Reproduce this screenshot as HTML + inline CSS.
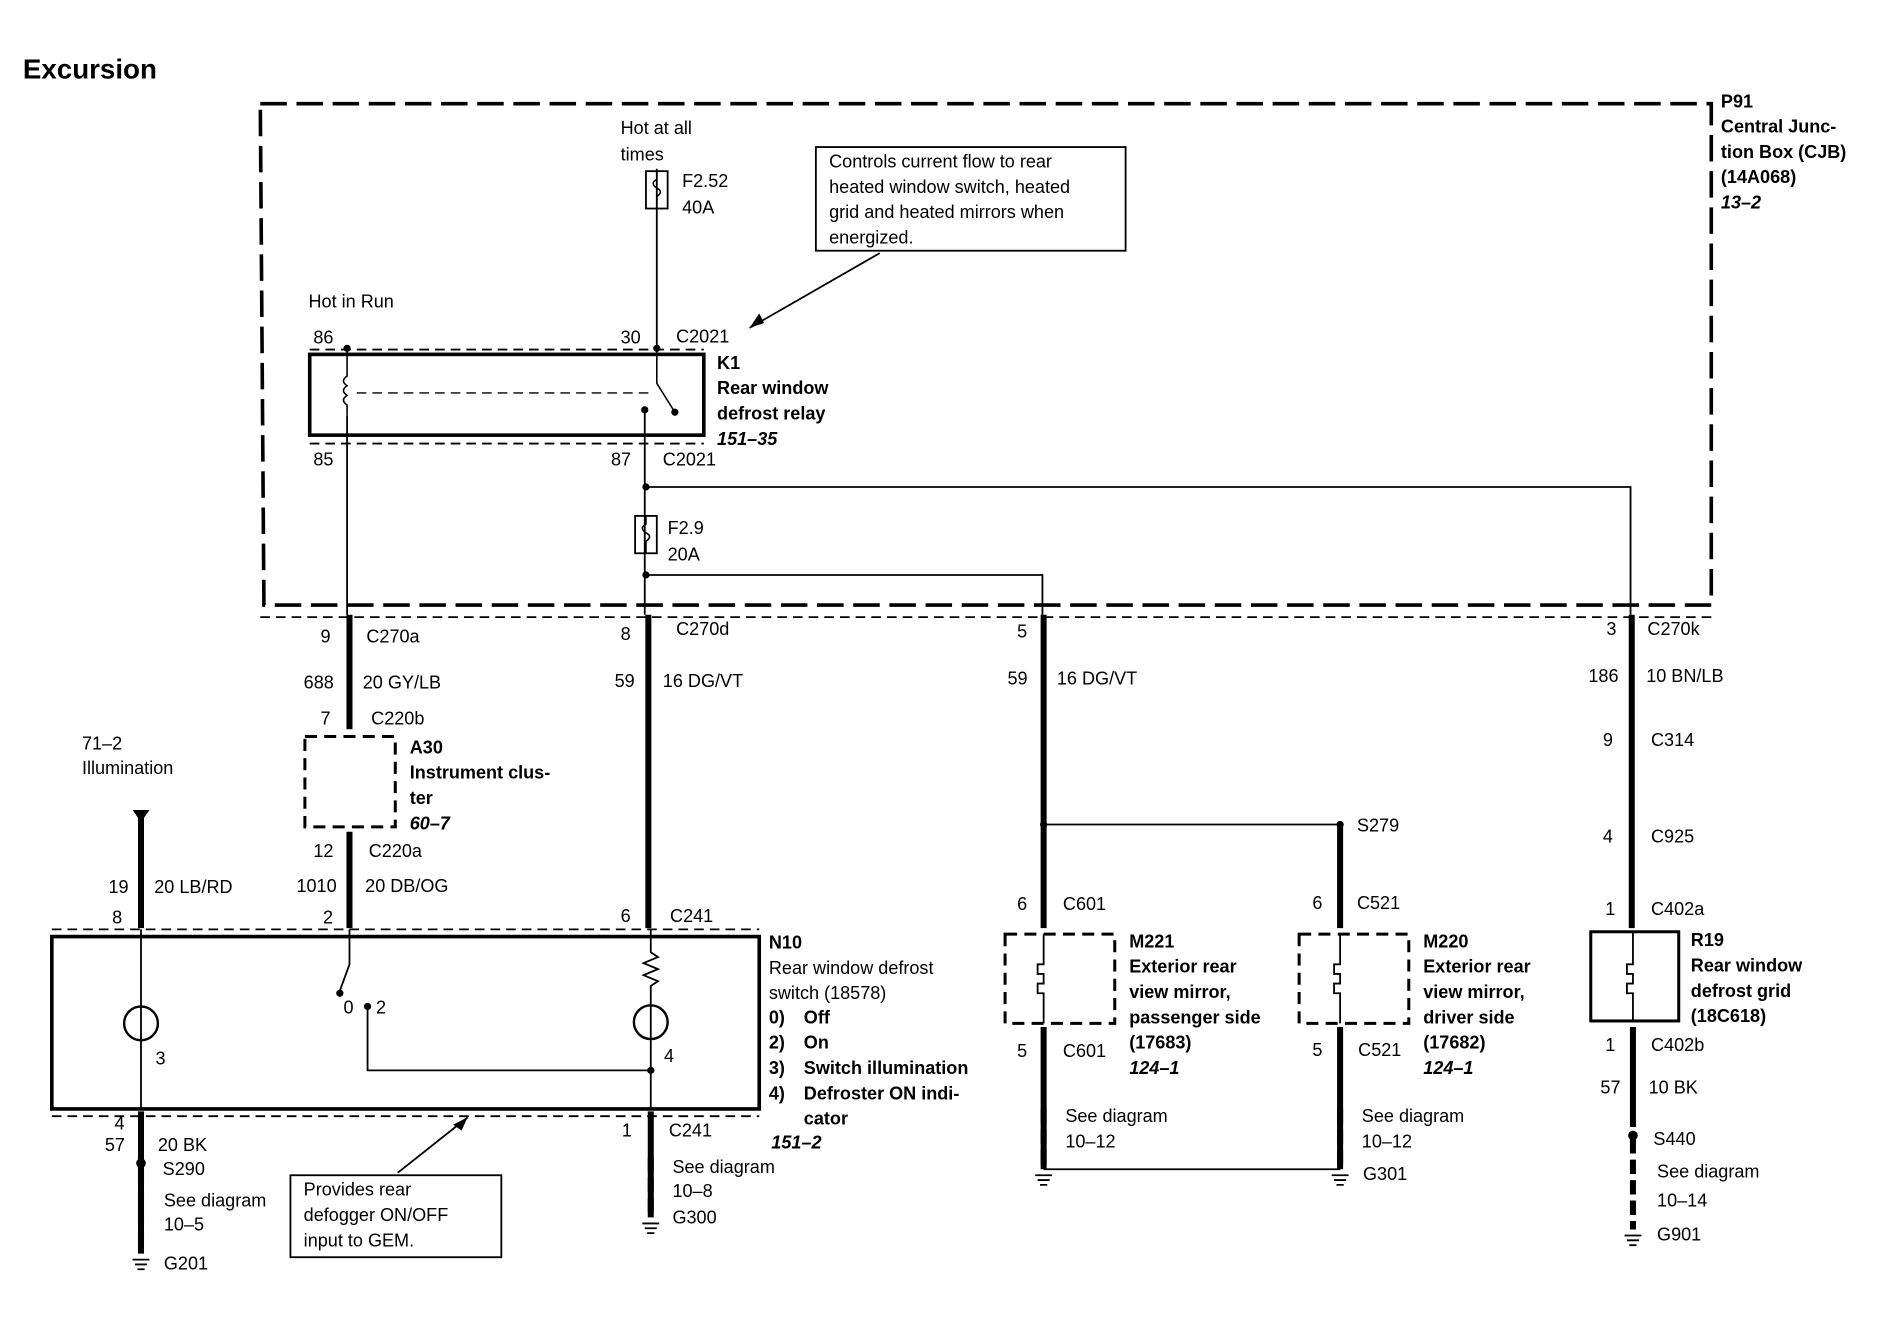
<!DOCTYPE html>
<html><head><meta charset="utf-8"><style>
html,body{margin:0;padding:0;background:#fff}
svg{display:block}
text{font-family:"Liberation Sans",Arial,sans-serif;font-size:15px;fill:#000}
.b{font-weight:bold}
.i{font-style:italic;font-weight:bold}
</style></head><body>
<svg width="1880" height="1344" viewBox="0 0 1560 1115" preserveAspectRatio="none" xmlns="http://www.w3.org/2000/svg">
<g fill="none" stroke="#000">
<path d="M216 86 H1420 V502 H219 Z" stroke-width="3" stroke-dasharray="22,8"/>
<path d="M545 140 V290" stroke-width="1.5"/>
<rect x="536" y="142" width="18" height="31" stroke-width="1.5"/>
<path d="M545 142 v7 q-6 3 0 7 q6 3 0 7 v10" stroke-width="1.3"/>
<rect x="257" y="294" width="327" height="67" stroke-width="3"/>
<path d="M257 290 H584 M257 368 H584" stroke-width="1.5" stroke-dasharray="8,5"/>
<path d="M288 288 V312 q-6 4 0 8 q-6 4 0 8 q-6 4 0 8 V345" stroke-width="1.3"/>
<path d="M296 326 H540" stroke-width="1.2" stroke-dasharray="8,5"/>
<path d="M545 290 V318 L560 342" stroke-width="1.3"/>
<path d="M535 340 V510" stroke-width="1.5"/>
<path d="M288 345 V510" stroke-width="1.5"/>
<rect x="677" y="122" width="257" height="86" stroke-width="1.5"/>
<path d="M730 210 L622 272" stroke-width="1.5"/>
<rect x="527" y="428" width="18" height="31" stroke-width="1.5"/>
<path d="M536 428 v7 q-6 3 0 7 q6 3 0 7 v10" stroke-width="1.3"/>
<path d="M536 404 H1353 V510" stroke-width="1.5"/>
<path d="M536 477 H865 V510" stroke-width="1.5"/>
<g stroke-width="5">
<path d="M290 510 V605"/>
<path d="M290 690 V770"/>
<path d="M538 510 V770"/>
<path d="M866 510 V770"/>
<path d="M1354 510 V770"/>
<path d="M1112 684 V770"/>
<path d="M117 672 V770"/>
<path d="M866 852 V970"/>
<path d="M1112 852 V970"/>
<path d="M1355 852 V935"/>
<path d="M540 922 V1010"/>
<path d="M117 922 V1040"/>
<path d="M1355 945 V1020" stroke-dasharray="12,5"/>
<path d="M117 970 V1038" stroke-dasharray="12,5"/>
<path d="M540 960 V1010" stroke-dasharray="12,5"/>
<path d="M866 920 V970" stroke-dasharray="12,5"/>
<path d="M1112 920 V970" stroke-dasharray="12,5"/>
</g>
<path d="M866 684 H1112" stroke-width="1.5"/>
<path d="M866 970 H1112" stroke-width="1.5"/>
<path d="M216 512 H1420" stroke-width="1.5" stroke-dasharray="8,5"/>
<rect x="253" y="611" width="75" height="75" stroke-width="2.5" stroke-dasharray="10,6"/>
<rect x="43" y="777" width="587" height="143" stroke-width="3"/>
<path d="M43 771 H630 M43 926 H630" stroke-width="1.5" stroke-dasharray="8,5"/>
<path d="M117 771 V920" stroke-width="1.5"/>
<circle cx="117" cy="849" r="14" stroke-width="2"/>
<path d="M290 771 V800 L282 822" stroke-width="1.5"/>
<path d="M305 835 V888 H540" stroke-width="1.5"/>
<path d="M540 771 V790 l6 4 -12 5 12 5 -12 5 12 5 -6 4 V920" stroke-width="1.5"/>
<circle cx="540" cy="848" r="14" stroke-width="2"/>
<rect x="241" y="975" width="175" height="68" stroke-width="1.5"/>
<path d="M330 973 L388 927" stroke-width="1.5"/>
<rect x="834" y="775" width="91" height="74" stroke-width="2.5" stroke-dasharray="10,6"/>
<rect x="1078" y="775" width="91" height="74" stroke-width="2.5" stroke-dasharray="10,6"/>
<rect x="1320" y="773" width="73" height="74" stroke-width="2.5"/>
<path d="M866 775 V800 h-5 v8 h5 v8 h-5 v8 h5 V849" stroke-width="1.5"/>
<path d="M1112 775 V800 h-5 v8 h5 v8 h-5 v8 h5 V849" stroke-width="1.5"/>
<path d="M1355 773 V800 h-5 v8 h5 v8 h-5 v8 h5 V847" stroke-width="1.5"/>
</g>
<g fill="#000">
<circle cx="288" cy="289" r="3"/><circle cx="545" cy="289" r="3"/><circle cx="535" cy="340" r="3"/><circle cx="560" cy="342" r="3"/>
<circle cx="536" cy="404" r="3"/><circle cx="536" cy="477" r="3"/><circle cx="866" cy="684" r="3"/><circle cx="1112" cy="684" r="3"/>
<circle cx="282" cy="824" r="3"/><circle cx="305" cy="835" r="3"/><circle cx="540" cy="888" r="3"/><circle cx="1355" cy="942" r="4"/><circle cx="117" cy="965" r="4"/>
<path d="M622 272 l8 -12 l4 8 z"/>
<path d="M388 927 l-12 6 l7 5 z"/>
<path d="M110 672 h14 l-7 10 z"/>
</g>
<g stroke="#000" stroke-width="1.5">
<path d="M110 1045 h14 M112 1049 h10 M114 1053 h6"/><path d="M533 1015 h14 M535 1019 h10 M537 1023 h6"/>
<path d="M859 975 h14 M861 979 h10 M863 983 h6"/><path d="M1105 975 h14 M1107 979 h10 M1109 983 h6"/>
<path d="M1348 1025 h14 M1350 1029 h10 M1352 1033 h6"/>
</g>
<text x="19" y="65" class="b" style="font-size:23px">Excursion</text>
<text x="515" y="111">Hot at all</text><text x="515" y="133">times</text>
<text x="566" y="155">F2.52</text><text x="566" y="177">40A</text>
<text x="688" y="139">Controls current flow to rear</text>
<text x="688" y="160">heated window switch, heated</text>
<text x="688" y="181">grid and heated mirrors when</text>
<text x="688" y="202">energized.</text>
<text x="1428" y="89" class="b">P91</text><text x="1428" y="110" class="b">Central Junc-</text><text x="1428" y="131" class="b">tion Box (CJB)</text><text x="1428" y="152" class="b">(14A068)</text><text x="1428" y="173" class="i">13–2</text>
<text x="256" y="255">Hot in Run</text>
<text x="260" y="285">86</text><text x="515" y="285">30</text><text x="561" y="284">C2021</text>
<text x="595" y="306" class="b">K1</text><text x="595" y="327" class="b">Rear window</text><text x="595" y="348" class="b">defrost relay</text><text x="595" y="369" class="i">151–35</text>
<text x="260" y="386">85</text><text x="507" y="386">87</text><text x="550" y="386">C2021</text>
<text x="554" y="443">F2.9</text><text x="554" y="465">20A</text>
<text x="266" y="533">9</text><text x="304" y="533">C270a</text>
<text x="515" y="531">8</text><text x="561" y="527">C270d</text>
<text x="844" y="529">5</text><text x="1333" y="527">3</text><text x="1367" y="527">C270k</text>
<text x="252" y="571">688</text><text x="301" y="571">20 GY/LB</text>
<text x="510" y="570">59</text><text x="550" y="570">16 DG/VT</text>
<text x="836" y="568">59</text><text x="877" y="568">16 DG/VT</text>
<text x="1318" y="566">186</text><text x="1366" y="566">10 BN/LB</text>
<text x="266" y="601">7</text><text x="308" y="601">C220b</text>
<text x="1330" y="619">9</text><text x="1370" y="619">C314</text>
<text x="68" y="622">71–2</text><text x="68" y="642">Illumination</text>
<text x="340" y="625" class="b">A30</text><text x="340" y="646" class="b">Instrument clus-</text><text x="340" y="667" class="b">ter</text><text x="340" y="688" class="i">60–7</text>
<text x="1126" y="690">S279</text>
<text x="1330" y="699">4</text><text x="1370" y="699">C925</text>
<text x="260" y="711">12</text><text x="306" y="711">C220a</text>
<text x="90" y="741">19</text><text x="128" y="741">20 LB/RD</text>
<text x="246" y="740">1010</text><text x="303" y="740">20 DB/OG</text>
<text x="844" y="755">6</text><text x="882" y="755">C601</text>
<text x="1089" y="754">6</text><text x="1126" y="754">C521</text>
<text x="1332" y="759">1</text><text x="1370" y="759">C402a</text>
<text x="93" y="766">8</text><text x="268" y="766">2</text><text x="515" y="765">6</text><text x="556" y="765">C241</text>
<text x="638" y="787" class="b">N10</text>
<text x="638" y="808">Rear window defrost</text><text x="638" y="829">switch (18578)</text>
<text x="638" y="849" class="b">0)</text><text x="667" y="849" class="b">Off</text>
<text x="638" y="870" class="b">2)</text><text x="667" y="870" class="b">On</text>
<text x="638" y="891" class="b">3)</text><text x="667" y="891" class="b">Switch illumination</text>
<text x="638" y="912" class="b">4)</text><text x="667" y="912" class="b">Defroster ON indi-</text>
<text x="667" y="933" class="b">cator</text><text x="640" y="953" class="i">151–2</text>
<text x="937" y="786" class="b">M221</text><text x="937" y="807" class="b">Exterior rear</text><text x="937" y="828" class="b">view mirror,</text><text x="937" y="849" class="b">passenger side</text><text x="937" y="870" class="b">(17683)</text><text x="937" y="891" class="i">124–1</text>
<text x="1181" y="786" class="b">M220</text><text x="1181" y="807" class="b">Exterior rear</text><text x="1181" y="828" class="b">view mirror,</text><text x="1181" y="849" class="b">driver side</text><text x="1181" y="870" class="b">(17682)</text><text x="1181" y="891" class="i">124–1</text>
<text x="1403" y="785" class="b">R19</text><text x="1403" y="806" class="b">Rear window</text><text x="1403" y="827" class="b">defrost grid</text><text x="1403" y="848" class="b">(18C618)</text>
<text x="285" y="841">0</text><text x="312" y="841">2</text>
<text x="129" y="883">3</text><text x="551" y="881">4</text>
<text x="844" y="877">5</text><text x="882" y="877">C601</text>
<text x="1089" y="876">5</text><text x="1127" y="876">C521</text>
<text x="1332" y="872">1</text><text x="1370" y="872">C402b</text>
<text x="1328" y="907">57</text><text x="1368" y="907">10 BK</text>
<text x="95" y="937">4</text><text x="87" y="955">57</text><text x="131" y="955">20 BK</text>
<text x="516" y="943">1</text><text x="555" y="943">C241</text>
<text x="884" y="931">See diagram</text><text x="884" y="952">10–12</text>
<text x="1130" y="931">See diagram</text><text x="1130" y="952">10–12</text>
<text x="1131" y="979">G301</text>
<text x="1372" y="950">S440</text><text x="1375" y="977">See diagram</text><text x="1375" y="1001">10–14</text><text x="1375" y="1029">G901</text>
<text x="558" y="973">See diagram</text><text x="558" y="993">10–8</text><text x="558" y="1015">G300</text>
<text x="135" y="975">S290</text><text x="136" y="1001">See diagram</text><text x="136" y="1021">10–5</text><text x="136" y="1053">G201</text>
<text x="252" y="992">Provides rear</text><text x="252" y="1013">defogger ON/OFF</text><text x="252" y="1034">input to GEM.</text>
</svg>
</body></html>
